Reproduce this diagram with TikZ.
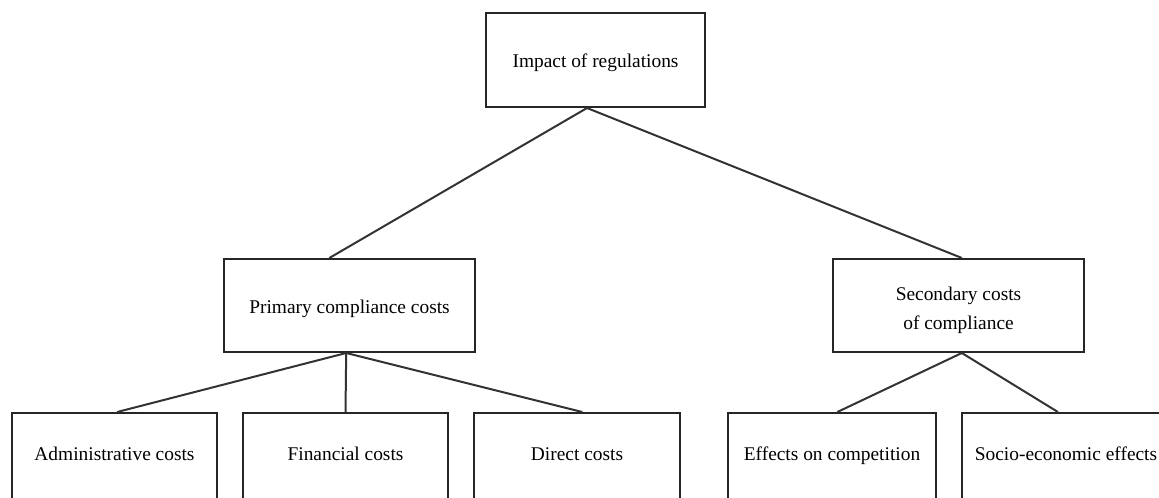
\documentclass[tikz,border=0pt]{standalone}
\usepackage{fontspec}
\setmainfont{Liberation Serif}
\begin{document}
\begin{tikzpicture}[x=0.5pt,y=-0.5pt,
  box/.style={rectangle, draw=black!85, line width=1pt, inner sep=0pt,
    minimum height=46.5pt, align=center,
    font=\fontsize{9.7}{14.5}\selectfont},
  oneline/.style={text height=10pt, text depth=2pt},
  leaf/.style={box, anchor=north, minimum height=50pt,
    text height=7pt, text depth=10pt}]
\useasboundingbox (0,0) rectangle (1159,497);
\clip (0,0) rectangle (1159,497);
\node[box, oneline, minimum width=109.5pt, minimum height=47pt] (impact) at (595.5,60) {Impact of regulations};
\node[box, oneline, minimum width=125.5pt] (primary) at (349.5,305.5) {Primary compliance costs};
\node[box, minimum width=125.5pt, text height=25.5pt, text depth=2pt] (secondary) at (958.5,305.5) {Secondary costs\\of compliance};
\node[leaf, minimum width=102.5pt] (admin) at (114.5,412) {Administrative costs};
\node[leaf, minimum width=102.5pt] (financial) at (345.5,412) {Financial costs};
\node[leaf, minimum width=103pt] (direct) at (577,412) {Direct costs};
\node[leaf, minimum width=104pt] (competition) at (832,412) {Effects on competition};
\node[leaf, minimum width=104pt] (socio) at (1066,412) {Socio-economic effects};
\draw[line width=1pt, black!80] (impact.260) -- (primary.113);
\draw[line width=1pt, black!80] (impact.260) -- (secondary.86);
\draw[line width=1pt, black!80] (primary.266) -- (admin.87);
\draw[line width=1pt, black!80] (primary.266) -- (financial.north);
\draw[line width=1pt, black!80] (primary.266) -- (direct.84);
\draw[line width=1pt, black!80] (secondary.274) -- (competition.84);
\draw[line width=1pt, black!80] (secondary.274) -- (socio.99);
\end{tikzpicture}
\end{document}
